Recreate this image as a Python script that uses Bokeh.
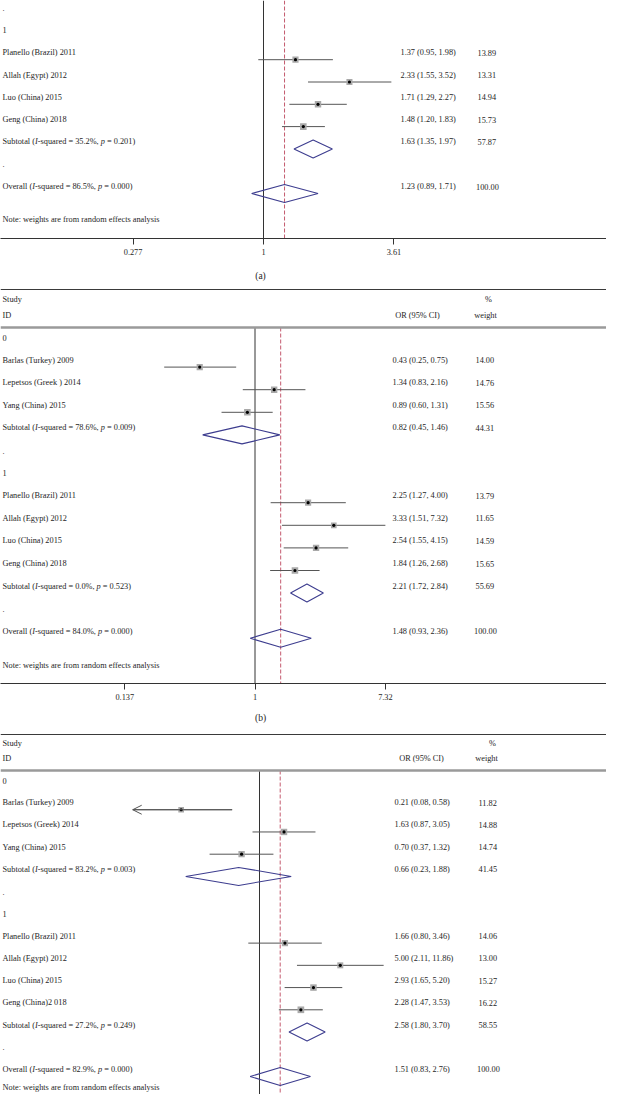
import math
from bokeh.plotting import figure
from bokeh.models import (Range1d, LinearScale, ColumnDataSource, FixedTicker,
                          CustomJSTickFormatter, Arrow, OpenHead)
from bokeh.layouts import column
from bokeh.embed import file_html
from bokeh.resources import INLINE
from bokeh.core.properties import value

# ---------------- data: panel (a) (upper part cut off in the reference) ----------------
A_STUDY = ["Planello (Brazil) 2011", "Allah (Egypt) 2012", "Luo (China) 2015", "Geng (China) 2018"]
A_GROUP = [1, 1, 1, 1]
A_OR = [1.37, 2.33, 1.71, 1.48]
A_LO = [0.95, 1.55, 1.29, 1.20]
A_HI = [1.98, 3.52, 2.27, 1.83]
A_W = [13.89, 13.31, 14.94, 15.73]
A_SUB_GROUP = [1]
A_SUB_LABEL = ["Subtotal (I-squared = 35.2%, p = 0.201)"]
A_SUB_OR = [1.63]
A_SUB_LO = [1.35]
A_SUB_HI = [1.97]
A_SUB_W = [57.87]
A_ALL_LABEL = "Overall (I-squared = 86.5%, p = 0.000)"
A_ALL = [1.23, 0.89, 1.71, 100.00]
A_TICKS = [0.277, 1, 3.61]

# ---------------- data: panel (b) ----------------
B_STUDY = ["Barlas (Turkey) 2009", "Lepetsos (Greek ) 2014", "Yang (China) 2015",
           "Planello (Brazil) 2011", "Allah (Egypt) 2012", "Luo (China) 2015", "Geng (China) 2018"]
B_GROUP = [0, 0, 0, 1, 1, 1, 1]
B_OR = [0.43, 1.34, 0.89, 2.25, 3.33, 2.54, 1.84]
B_LO = [0.25, 0.83, 0.60, 1.27, 1.51, 1.55, 1.26]
B_HI = [0.75, 2.16, 1.31, 4.00, 7.32, 4.15, 2.68]
B_W = [14.00, 14.76, 15.56, 13.79, 11.65, 14.59, 15.65]
B_SUB_GROUP = [0, 1]
B_SUB_LABEL = ["Subtotal (I-squared = 78.6%, p = 0.009)", "Subtotal (I-squared = 0.0%, p = 0.523)"]
B_SUB_OR = [0.82, 2.21]
B_SUB_LO = [0.45, 1.72]
B_SUB_HI = [1.46, 2.84]
B_SUB_W = [44.31, 55.69]
B_ALL_LABEL = "Overall (I-squared = 84.0%, p = 0.000)"
B_ALL = [1.48, 0.93, 2.36, 100.00]
B_TICKS = [0.137, 1, 7.32]

# ---------------- data: panel (c) (lower part cut off in the reference) ----------------
C_STUDY = ["Barlas (Turkey) 2009", "Lepetsos (Greek) 2014", "Yang (China) 2015",
           "Planello (Brazil) 2011", "Allah (Egypt) 2012", "Luo (China) 2015", "Geng (China)2 018"]
C_GROUP = [0, 0, 0, 1, 1, 1, 1]
C_OR = [0.21, 1.63, 0.70, 1.66, 5.00, 2.93, 2.28]
C_LO = [0.08, 0.87, 0.37, 0.80, 2.11, 1.65, 1.47]
C_HI = [0.58, 3.05, 1.32, 3.46, 11.86, 5.20, 3.53]
C_W = [11.82, 14.88, 14.74, 14.06, 13.00, 15.27, 16.22]
C_SUB_GROUP = [0, 1]
C_SUB_LABEL = ["Subtotal (I-squared = 83.2%, p = 0.003)", "Subtotal (I-squared = 27.2%, p = 0.249)"]
C_SUB_OR = [0.66, 2.58]
C_SUB_LO = [0.23, 1.80]
C_SUB_HI = [1.88, 3.70]
C_SUB_W = [41.45, 58.55]
C_ALL_LABEL = "Overall (I-squared = 82.9%, p = 0.000)"
C_ALL = [1.51, 0.83, 2.76, 100.00]
C_TICKS = [0.0843, 1, 11.86]

NOTE = "Note: weights are from random effects analysis"
HEAD_STUDY = ["Study", "ID"]
HEAD_OR = "OR (95% CI)"
HEAD_W = ["%", "weight"]
CAPTIONS = ["(a)", "(b)"]

# ---------------- style ----------------
FONT = "Liberation Serif"
FS = 8.3
TXT = "#1e1e1e"
CI_COL = "#555555"
BOX_COL = "#a9a9a9"
DIA_COL = "#3d3d8f"
DASH_COL = "#c45a6e"
W_PX = 606

W_REG = {' ': 250, '(': 333, ')': 333, '-': 333, '=': 564, '%': 833, ',': 250, '.': 250,
         'S': 556, 'u': 500, 'b': 500, 't': 278, 'o': 500, 'a': 444, 'l': 278, 's': 389,
         'q': 500, 'r': 333, 'e': 444, 'd': 500, 'O': 722, 'v': 500}
W_ITA = {'I': 333, 'p': 500}


def text_width(s, italic=False):
    table = W_ITA if italic else W_REG
    return sum(table.get(c, 500) for c in s) / 1000.0 * FS


def rich_pieces(s, x):
    i = s.find("I-squared")
    j = s.find(", p =")
    if i < 0 or j < 0:
        return [(s, x, False)]
    parts = [(s[:i], False), ("I", True), (s[i + 1:j + 2], False), ("p", True), (s[j + 3:], False)]
    out = []
    cx = x
    for t, it in parts:
        lead = len(t) - len(t.lstrip(" "))
        cx += lead * 0.25 * FS
        t2 = t.lstrip(" ")
        out.append((t2, cx, it))
        cx += text_width(t2, it)
    return out


def assign_rows(study_groups, sub_groups, start, lead_dot):
    r = start
    labels = []
    if lead_dot:
        labels.append((".", r))
        r += 1
    srows = [None] * len(study_groups)
    subrows = []
    for g in sub_groups:
        labels.append((str(g), r))
        r += 1
        for i, sg in enumerate(study_groups):
            if sg == g:
                srows[i] = r
                r += 1
        subrows.append(r)
        r += 1
        labels.append((".", r))
        r += 1
    return labels, srows, subrows, r


def make_panel(height, frame_top, frame_bot, row0, sp, null_px, px_per_ln,
               study, groups, orv, lo, hi, w, sub_groups, sub_label, sub_or, sub_lo, sub_hi, sub_w,
               all_label, allv, ticks, show_axis, start, lead_dot, note_gap,
               or_x, w_x, line_top, header=None, caption=None):
    xs = math.exp((0 - null_px) / px_per_ln)
    xe = math.exp((W_PX - null_px) / px_per_ln)
    p = figure(width=W_PX, height=height, x_axis_type="log",
               x_range=Range1d(xs, xe),
               y_range=Range1d((frame_bot - row0) / sp, (frame_top - row0) / sp),
               x_axis_location="below" if show_axis else None, y_axis_location=None,
               output_backend="svg", toolbar_location=None,
               min_border_left=0, min_border_right=0, min_border_top=0,
               min_border_bottom=height - (frame_bot - frame_top))
    p.extra_x_ranges = {"px": Range1d(0, W_PX)}
    p.extra_x_scales = {"px": LinearScale()}
    p.extra_y_ranges = {"px": Range1d(frame_bot, frame_top)}
    p.extra_y_scales = {"px": LinearScale()}
    p.grid.grid_line_color = None
    p.outline_line_color = None
    p.background_fill_color = "white"
    p.border_fill_color = "white"

    if show_axis:
        ax = p.xaxis[0]
        ax.ticker = FixedTicker(ticks=ticks)
        ax.formatter = CustomJSTickFormatter(code="return String(tick)")
        ax.major_tick_out = 6
        ax.major_tick_in = 0
        ax.minor_tick_line_color = None
        ax.axis_line_color = "#333333"
        ax.axis_line_width = 1.2
        ax.major_tick_line_color = "#333333"
        ax.major_label_text_font = FONT
        ax.major_label_text_font_size = f"{FS}px"
        ax.major_label_text_color = TXT
        ax.major_label_standoff = 4

    labels, srows, subrows, overall_row = assign_rows(groups, sub_groups, start, lead_dot)
    note_row = overall_row + note_gap

    # reference lines
    p.segment(x0=[1], x1=[1], y0=[line_top], y1=[frame_bot], y_range_name="px",
              line_color="#333333", line_width=1)
    p.segment(x0=[allv[0]], x1=[allv[0]], y0=[line_top], y1=[frame_bot], y_range_name="px",
              line_color=DASH_COL, line_width=1, line_dash="4 2")

    # header
    if header is not None:
        rule1, rule2, y_study, y_id, or_cx, pct_cx, w_cx = header
        p.segment(x0=[0], x1=[W_PX], y0=[rule1], y1=[rule1], x_range_name="px", y_range_name="px",
                  line_color="#3a3a3a", line_width=1.2)
        p.segment(x0=[0], x1=[W_PX], y0=[rule2], y1=[rule2], x_range_name="px", y_range_name="px",
                  line_color="#9a9a9a", line_width=2.5)
        hsrc = ColumnDataSource(dict(x=[2, 2], y=[y_study, y_id], t=HEAD_STUDY))
        p.text(x="x", y="y", text="t", source=hsrc, x_range_name="px", y_range_name="px",
               text_font=value(FONT), text_font_size=value(f"{FS}px"), text_color=TXT,
               text_align="left", text_baseline="middle")
        csrc = ColumnDataSource(dict(x=[or_cx, pct_cx, w_cx], y=[y_id, y_study, y_id],
                                     t=[HEAD_OR, HEAD_W[0], HEAD_W[1]]))
        p.text(x="x", y="y", text="t", source=csrc, x_range_name="px", y_range_name="px",
               text_font=value(FONT), text_font_size=value(f"{FS}px"), text_color=TXT,
               text_align="center", text_baseline="middle")
    if caption is not None:
        cap_text, cx, cy = caption
        p.text(x=[cx], y=[cy], text=[cap_text], x_range_name="px", y_range_name="px",
               text_font=value(FONT), text_font_size=value("9.5px"), text_color=TXT,
               text_align="center", text_baseline="middle")

    # study CIs and boxes
    src = ColumnDataSource(dict(orv=orv, lo=lo, hi=hi, row=srows,
                                size=[6.2 * math.sqrt(v / 14.0) for v in w]))
    p.segment(x0="lo", x1="hi", y0="row", y1="row", source=src, line_color=CI_COL, line_width=1)
    p.scatter(x="orv", y="row", size="size", marker="square", source=src,
              fill_color=BOX_COL, line_color=None)
    p.scatter(x="orv", y="row", size=3.2, marker="circle", source=src,
              fill_color="black", line_color=None)

    # arrows for CIs beyond the axis minimum
    ai = [i for i in range(len(lo)) if lo[i] < ticks[0]]
    if ai:
        asrc = ColumnDataSource(dict(x0=[hi[i] for i in ai], x1=[lo[i] for i in ai],
                                     y=[srows[i] for i in ai]))
        p.add_layout(Arrow(end=OpenHead(size=9, line_color=CI_COL, line_width=1),
                           x_start="x0", y_start="y", x_end="x1", y_end="y", source=asrc,
                           line_color=CI_COL, line_width=1))

    # diamonds
    h = 9.0 / sp
    dxs = [[sub_lo[k], sub_or[k], sub_hi[k], sub_or[k]] for k in range(len(sub_or))]
    dys = [[subrows[k], subrows[k] - h, subrows[k], subrows[k] + h] for k in range(len(sub_or))]
    dxs.append([allv[1], allv[0], allv[2], allv[0]])
    dys.append([overall_row, overall_row - h, overall_row, overall_row + h])
    p.patches(xs=dxs, ys=dys, fill_color=None, line_color=DIA_COL, line_width=1.1)

    # texts
    norm = dict(x=[], y=[], t=[])
    ital = dict(x=[], y=[], t=[])

    def add(text, x, row):
        for t, px, it in rich_pieces(text, x):
            d = ital if it else norm
            d["x"].append(px)
            d["y"].append(row)
            d["t"].append(t)

    for t, r in labels:
        add(t, 2, r)
    for i, s in enumerate(study):
        add(s, 2, srows[i])
        add(f"{orv[i]:.2f} ({lo[i]:.2f}, {hi[i]:.2f})", or_x, srows[i])
        add(f"{w[i]:.2f}", w_x, srows[i])
    for k in range(len(sub_or)):
        add(sub_label[k], 2, subrows[k])
        add(f"{sub_or[k]:.2f} ({sub_lo[k]:.2f}, {sub_hi[k]:.2f})", or_x, subrows[k])
        add(f"{sub_w[k]:.2f}", w_x, subrows[k])
    add(all_label, 2, overall_row)
    add(f"{allv[0]:.2f} ({allv[1]:.2f}, {allv[2]:.2f})", or_x, overall_row)
    add(f"{allv[3]:.2f}", w_x - 1.5, overall_row)
    add(NOTE, 2, note_row)

    for d, style in ((norm, "normal"), (ital, "italic")):
        p.text(x="x", y="y", text="t", source=ColumnDataSource(d), x_range_name="px",
               text_font=value(FONT), text_font_size=value(f"{FS}px"), text_color=TXT,
               text_font_style=style, text_align="left", text_baseline="middle", y_offset=-7)
    return p


pa = make_panel(262, 0, 238, 193 - 13 * 22.3, 22.3, 263, 101.6,
                A_STUDY, A_GROUP, A_OR, A_LO, A_HI, A_W, A_SUB_GROUP, A_SUB_LABEL,
                A_SUB_OR, A_SUB_LO, A_SUB_HI, A_SUB_W, A_ALL_LABEL, A_ALL, A_TICKS,
                True, 5, True, 1.5, 400, 477, 0)

pb = make_panel(445, 262, 683, 344, 22.6, 254.5, 65.5,
                B_STUDY, B_GROUP, B_OR, B_LO, B_HI, B_W, B_SUB_GROUP, B_SUB_LABEL,
                B_SUB_OR, B_SUB_LO, B_SUB_HI, B_SUB_W, B_ALL_LABEL, B_ALL, B_TICKS,
                True, 0, False, 1.5, 392, 475, 327,
                header=(289, 327, 299, 315, 417, 488, 485),
                caption=(CAPTIONS[0], 260, 275))

pc = make_panel(387, 707, 1094, 787, 22.23, 259, 50.2,
                C_STUDY, C_GROUP, C_OR, C_LO, C_HI, C_W, C_SUB_GROUP, C_SUB_LABEL,
                C_SUB_OR, C_SUB_LO, C_SUB_HI, C_SUB_W, C_ALL_LABEL, C_ALL, C_TICKS,
                False, 0, False, 0.8, 394, 478, 770,
                header=(734, 770, 743, 758, 421, 492, 486),
                caption=(CAPTIONS[1], 260, 717))

layout = column(pa, pb, pc, spacing=0)
open("out.html", "w").write(file_html(layout, INLINE))
